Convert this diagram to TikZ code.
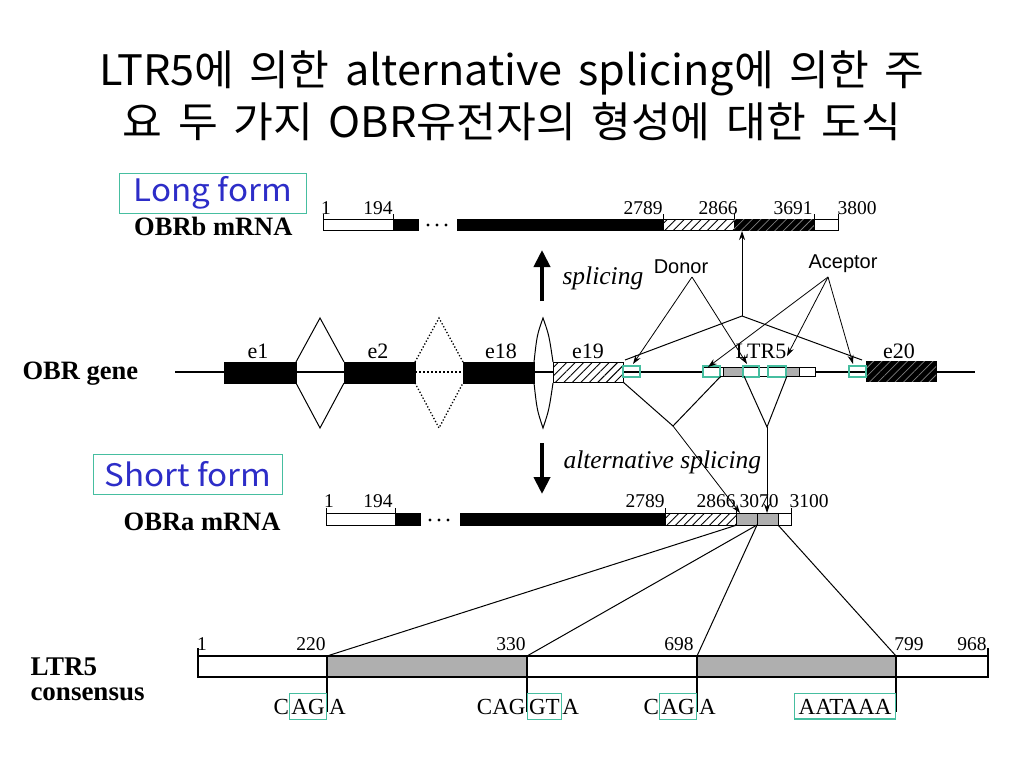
\documentclass[tikz,border=0pt]{standalone}
\usepackage{fontspec}
\setmainfont{Liberation Serif}
\newfontfamily\hangulfont[FakeStretch=1.07]{Noto Sans CJK KR}
\newfontfamily\titlefont[FakeStretch=1.03,WordSpace=1.6]{Noto Sans CJK KR}
\newfontfamily\labelfont{Liberation Sans}
\usetikzlibrary{arrows.meta,patterns.meta}
\definecolor{siteteal}{RGB}{70,190,160}
\definecolor{formblue}{RGB}{45,45,200}
\definecolor{ltrgray}{RGB}{175,175,175}
\definecolor{hatchgray}{RGB}{125,125,125}

\begin{document}
\begin{tikzpicture}[
        x=1pt, y=-1pt,
        line width=1pt,
        openseg/.style={draw, fill=white},
        blackseg/.style={draw, fill=black},
        hatchseg/.style={draw, fill=white, postaction={pattern={Lines[angle=45,distance=6pt,line width=0.9pt]}}},
        darkseg/.style={draw, fill=black, postaction={pattern={Lines[angle=45,distance=6pt,line width=0.8pt]}, pattern color=hatchgray}},
        greyseg/.style={draw, fill=ltrgray},
        sitebox/.style={draw=siteteal, line width=1.1pt},
        numlabel/.style={font=\fontsize{19.5}{19.5}\selectfont, anchor=base, inner sep=0pt},
        exonlabel/.style={font=\fontsize{22}{22}\selectfont, anchor=base, inner sep=0pt},
        rowlabel/.style={font=\bfseries\fontsize{26.5}{20}\selectfont, inner sep=0pt, align=left},
        formbox/.style={draw=siteteal, line width=0.9pt, text=formblue, font=\hangulfont\fontsize{31}{31}\selectfont, inner sep=0pt, minimum height=40pt},
        seqtext/.style={font=\fontsize{23}{23}\selectfont, inner sep=0pt, anchor=base},
        seqsite/.style={seqtext, draw=siteteal, line width=1.1pt, inner xsep=1.5pt, inner ysep=5pt},
        hint/.style={font=\labelfont\fontsize{20}{20}\selectfont, inner sep=0pt},
        stepname/.style={font=\itshape\fontsize{25.5}{25.5}\selectfont, anchor=west, inner sep=0pt},
        pointer/.style={-{Stealth[length=9pt,width=6pt]}, line width=0.8pt},
        bigarrow/.style={-{Triangle[length=17pt,width=16pt]}, line width=4pt}
    ]
    \useasboundingbox (0,0) rectangle (1024,768);
    \fill[white] (0,0) rectangle (1024,768);

    \node[font=\titlefont\fontsize{42}{52}\selectfont, align=center] (title) at (512,96)
        {LTR5에 의한 alternative splicing에 의한 주\\요 두 가지 OBR유전자의 형성에 대한 도식};

    \node[formbox, minimum width=187pt] (long) at (213,193) {Long form};
    \node[formbox, minimum width=189pt] (short) at (188,474) {Short form};

    \node[rowlabel, anchor=east] (obrb) at (293,226) {OBRb mRNA};
    \node[rowlabel, anchor=west] (gene) at (22,374) {OBR gene};
    \node[rowlabel, anchor=east] (obra) at (281,522) {OBRa mRNA};
    \node[rowlabel, font=\bfseries\fontsize{27}{25}\selectfont, anchor=west] (ltr) at (30,679) {LTR5\\consensus};

    \draw[openseg] (323,219) rectangle (393,230);
    \draw[blackseg] (393,219) rectangle (418,230);
    \draw[blackseg] (457,219) rectangle (663,230);
    \draw[hatchseg] (663,219) rectangle (734,230);
    \draw[darkseg] (734,219) rectangle (814,230);
    \draw[openseg] (814,219) rectangle (838,230);
    \foreach \d in {428,437,446} \fill (\d,225) circle (1.6);
    \foreach \x in {323,393,663,734,814,838} \draw (\x,219) -- (\x,214);
    \foreach \x/\t in {326/1, 378/194, 643/2789, 718/2866, 793/3691, 857/3800}
        \node[numlabel] (b\t) at (\x,214) {\t};

    \draw[line width=2pt] (175,372) -- (415,372);
    \draw[line width=2pt, dotted] (415,372) -- (463,372);
    \draw[line width=2pt] (463,372) -- (975,372);
    \draw[blackseg] (224,362) rectangle (296,383);
    \draw[blackseg] (344,362) rectangle (415,383);
    \draw[blackseg] (463,362) rectangle (534,383);
    \draw[hatchseg] (553,362) rectangle (623,382);
    \draw[darkseg] (866,361) rectangle (936,381);
    \draw (296,362) -- (320,318) -- (344,362) (296,383) -- (320,428) -- (344,383);
    \draw[dotted, line width=1.3pt] (415,362) -- (439,318) -- (463,362) (415,383) -- (439,428) -- (463,383);
    \draw (534,362) .. controls (537,335) .. (543,318) .. controls (549,335) .. (553,362);
    \draw (534,383) .. controls (537,410) .. (543,428) .. controls (549,410) .. (553,383);
    \foreach \x/\t in {258/e1, 378/e2, 501/e18, 588/e19, 761/LTR5, 899/e20}
        \node[exonlabel] (lab\t) at (\x,358) {\t};

    \draw[openseg] (703,367) rectangle (815,376);
    \draw[greyseg] (723,367) rectangle (743,376);
    \draw[greyseg] (786,367) rectangle (799,376);
    \foreach \a/\b in {623/640, 703/720, 743/759, 768/786, 849/866}
        \draw[sitebox] (\a,366) rectangle (\b,377);

    \coordinate (join) at (742,316);
    \coordinate (bjunction) at (742,231);
    \draw (625,360) -- (join) -- (862,360);
    \draw[pointer] (join) -- (bjunction);

    \node[hint] (donor) at (681,267) {Donor};
    \node[hint] (aceptor) at (843,264) {Aceptor};
    \coordinate (donorfoot) at (692,277);
    \coordinate (acfoot) at (828,277);
    \coordinate (d1) at (633,364);
    \coordinate (d2) at (747,364);
    \coordinate (r1) at (708,367);
    \coordinate (r2) at (787,356);
    \coordinate (r3) at (853,364);
    \draw[pointer] (donorfoot) -- (d1);
    \draw[pointer] (donorfoot) -- (d2);
    \foreach \r in {r1,r2,r3} \draw[pointer] (acfoot) -- (\r);

    \coordinate (alt1) at (673,426);
    \coordinate (alt2) at (767,427);
    \coordinate (atip1) at (740,513);
    \coordinate (atip2) at (767,513);
    \draw (623,382) -- (alt1) -- (721,376);
    \draw (744,376) -- (alt2) -- (787,376);
    \draw[pointer] (alt1) -- (atip1);
    \draw[pointer] (alt2) -- (atip2);

    \coordinate (upfoot) at (542,301);
    \coordinate (uphead) at (542,250);
    \coordinate (downfoot) at (542,443);
    \coordinate (downhead) at (542,494);
    \draw[bigarrow] (upfoot) -- (uphead);
    \draw[bigarrow] (downfoot) -- (downhead);
    \node[stepname] (splice) at (562,278) {splicing};
    \node[stepname] (altsplice) at (563,462) {alternative splicing};

    \draw[openseg] (326,513) rectangle (395,525);
    \draw[blackseg] (395,513) rectangle (420,525);
    \draw[blackseg] (460,513) rectangle (665,525);
    \draw[hatchseg] (665,513) rectangle (736,525);
    \draw[greyseg] (736,513) rectangle (757,525);
    \draw[greyseg] (757,513) rectangle (778,525);
    \draw[openseg] (778,513) rectangle (791,525);
    \foreach \d in {430,439,448} \fill (\d,520) circle (1.6);
    \foreach \x in {326,395,665,736,791} \draw (\x,513) -- (\x,508);
    \foreach \x/\t in {329/1, 378/194, 645/2789, 716/2866, 759/3070, 809/3100}
        \node[numlabel] (a\t) at (\x,507) {\t};

    \draw[openseg, line width=1.5pt] (198,656) rectangle (988,677);
    \draw[greyseg, line width=1.5pt] (327,656) rectangle (527,677);
    \draw[greyseg, line width=1.5pt] (697,656) rectangle (896,677);
    \foreach \x in {198,988} \draw[line width=1.5pt] (\x,656) -- (\x,648);
    \foreach \x/\t in {202/1, 311/220, 511/330, 679/698, 909/799, 972/968}
        \node[numlabel] (c\t) at (\x,650) {\t};
    \foreach \x in {327,527,697,896} \draw[line width=1.5pt] (\x,677) -- (\x,712);

    \coordinate (m1) at (737,525);
    \coordinate (m2) at (757,525);
    \coordinate (m3) at (778,525);
    \coordinate (l220) at (327,656);
    \coordinate (l330) at (527,656);
    \coordinate (l698) at (697,656);
    \coordinate (l799) at (896,656);
    \draw (m1) -- (l220);
    \draw (m2) -- (l330);
    \draw (m2) -- (l698);
    \draw (m3) -- (l799);

    \node[seqsite] (ag1) at (308,714) {AG};
    \node[seqtext, anchor=base east] (c1) at (ag1.base west) {C};
    \node[seqtext, anchor=base west] (a1) at ([xshift=2pt]ag1.base east) {A};
    \node[seqsite, anchor=base west] (gt2) at (527,714) {GT};
    \node[seqtext, anchor=base east] (cag2) at ([xshift=-1pt]gt2.base west) {CAG};
    \node[seqtext, anchor=base west] (a2) at (gt2.base east) {A};
    \node[seqsite] (ag3) at (678,714) {AG};
    \node[seqtext, anchor=base east] (c3) at (ag3.base west) {C};
    \node[seqtext, anchor=base west] (a3) at ([xshift=2pt]ag3.base east) {A};
    \node[seqsite, inner xsep=4pt] (poly) at (845,714) {AATAAA};
\end{tikzpicture}
\end{document}
